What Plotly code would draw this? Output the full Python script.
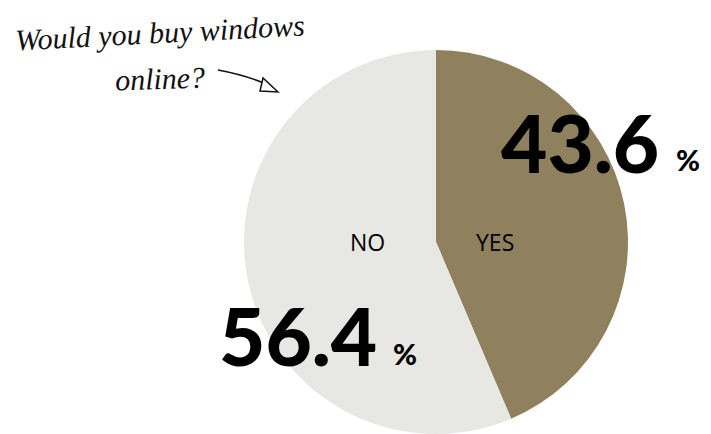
import plotly.graph_objects as go

labels = ["YES", "NO"]
values = [43.6, 56.4]
colors = ["#8F815E", "#E7E7E3"]
question_lines = ["Would you buy windows", "online?"]

W, H = 711, 434

fig = go.Figure()
fig.add_trace(go.Pie(
    labels=labels, values=values, sort=False, direction="clockwise", rotation=0,
    marker=dict(colors=colors, line=dict(width=0)),
    textinfo="none", hoverinfo="label+percent", showlegend=False,
    domain=dict(x=[244 / W, 628 / W], y=[0, 1 - 50 / H]),
))

def px(x, y):
    return x / W, 1 - y / H

big = dict(family="Lato", size=80, color="#000000", weight=900)
small = dict(family="Lato", size=29, color="#000000", weight=900)
lab = dict(family="Open Sans", size=23, color="#000000", weight=400)
hand = dict(family="Liberation Serif", size=30, color="#111111", style="italic")

ann = []
# YES value
x, y = px(661, 142)
ann.append(dict(x=x, y=y, xref="paper", yref="paper", text=f"{values[0]}", font=big,
                showarrow=False, xanchor="right", yanchor="middle"))
x, y = px(674, 160)
ann.append(dict(x=x, y=y, xref="paper", yref="paper", text="%", font=small,
                showarrow=False, xanchor="left", yanchor="middle"))
# NO value
x, y = px(379, 335)
ann.append(dict(x=x, y=y, xref="paper", yref="paper", text=f"{values[1]}", font=big,
                showarrow=False, xanchor="right", yanchor="middle"))
x, y = px(391, 353)
ann.append(dict(x=x, y=y, xref="paper", yref="paper", text="%", font=small,
                showarrow=False, xanchor="left", yanchor="middle"))
# slice labels
x, y = px(367, 242)
ann.append(dict(x=x, y=y, xref="paper", yref="paper", text=labels[1], font=lab,
                showarrow=False, xanchor="center", yanchor="middle"))
x, y = px(495, 242)
ann.append(dict(x=x, y=y, xref="paper", yref="paper", text=labels[0], font=lab,
                showarrow=False, xanchor="center", yanchor="middle"))
# handwritten question
x, y = px(160, 32)
ann.append(dict(x=x, y=y, xref="paper", yref="paper", text=question_lines[0], font=hand,
                showarrow=False, xanchor="center", yanchor="middle", textangle=-3))
x, y = px(160, 78)
ann.append(dict(x=x, y=y, xref="paper", yref="paper", text=question_lines[1], font=hand,
                showarrow=False, xanchor="center", yanchor="middle", textangle=-2))

shapes = [
    dict(type="path", xref="paper", yref="paper",
         path="M {:.4f} {:.4f} Q {:.4f} {:.4f} {:.4f} {:.4f}".format(*px(218, 70), *px(245, 75), *px(266, 84)),
         line=dict(color="#111111", width=1.5)),
    dict(type="path", xref="paper", yref="paper",
         path="M {:.4f} {:.4f} L {:.4f} {:.4f} L {:.4f} {:.4f} Z".format(*px(278, 92), *px(263, 78), *px(260, 91)),
         line=dict(color="#111111", width=1.5), fillcolor="white"),
]

fig.update_layout(
    width=W, height=H, margin=dict(l=0, r=0, t=0, b=0),
    paper_bgcolor="white", plot_bgcolor="white",
    annotations=ann, shapes=shapes,
)
fig.write_html("out.html")
